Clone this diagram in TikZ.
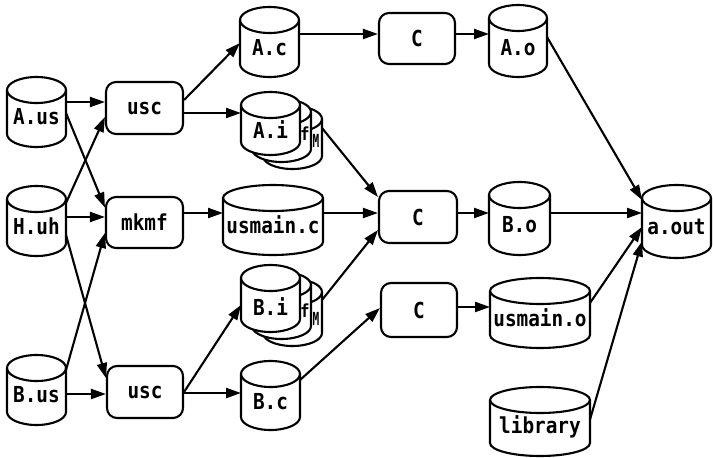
\documentclass[tikz,border=0pt]{standalone}
\usepackage{fontspec}
\newfontfamily\labelfont{DejaVu Sans Mono}[BoldFont={DejaVu Sans Mono Bold}, FakeStretch=0.88]
\usetikzlibrary{arrows.meta}

\tikzset{
  lw/.style={line width=2.1pt},
  proc/.style={draw, lw, rounded corners=10pt, inner sep=0pt,
    font=\labelfont\bfseries\fontsize{22}{22}\selectfont},
  lbl/.style={inner sep=0pt, font=\labelfont\bfseries\fontsize{22}{22}\selectfont},
  tag/.style={inner sep=0pt, font=\labelfont\bfseries\fontsize{18}{18}\selectfont},
  hold/.style={draw=none, inner sep=0pt, outer sep=0pt},
  arr/.style={lw, -{Triangle[length=15pt,width=10pt]}},
}

% cylinder outline: left, top, right, bottom (y grows downwards)
\newcommand\cylshape[4]{%
  \pgfmathsetmacro\cylrx{(#3-#1)/2}%
  \draw[lw, fill=white, line join=round]
    (#1,#2+13) -- (#1,#4-13) arc (180:0:\cylrx\space and 13)
    -- (#3,#2+13) arc (0:-180:\cylrx\space and 13) -- cycle;
  \draw[lw] (#1,#2+13) arc (180:0:\cylrx\space and 13);
}
% named holder node covering a box: name, left, top, right, bottom
\newcommand\holder[5]{%
  \node[hold, minimum width={#4-#2}, minimum height={#5-#3}]
    (#1) at ({(#2+#4)/2},{(#3+#5)/2}) {};
}
% cylinder with label: name, left, top, right, bottom, text, text drop
\newcommand\cylnode[7]{%
  \cylshape{#2}{#3}{#4}{#5}%
  \holder{#1}{#2}{#3}{#4}{#5}%
  \node[lbl] at ({(#2+#4)/2},{(#3+#5)/2+#7}) {#6};
}

\begin{document}
\begin{tikzpicture}[x=1pt, y=-1pt]
\useasboundingbox (0,0) rectangle (713,458);

% sources
\cylnode{Aus}{7}{77}{66}{147}{A.us}{5}
\cylnode{Huh}{7}{186}{66}{256}{H.uh}{5}
\cylnode{Bus}{7}{355}{66}{425}{B.us}{5}

% tools
\node[proc, minimum width=77, minimum height=52] (usc1) at (144.5,108) {usc};
\node[proc, minimum width=77, minimum height=51] (mkmf) at (144.5,222.5) {mkmf};
\node[proc, minimum width=76, minimum height=52] (usc2) at (145,392) {usc};

% generated files
\cylnode{Ac}{240}{7}{299}{77}{A.c}{6}

\cylshape{263}{106}{322}{169}
\holder{Ai3}{263}{106}{322}{169}
\node[tag, xscale=0.7] at (316,141) {M};
\cylshape{252}{99}{311}{162}
\node[tag] at (305,134) {f};
\cylnode{Ai}{241}{92}{300}{155}{A.i}{6.5}

\cylnode{usmainc}{223}{185}{323}{255}{usmain.c}{5}

\cylshape{263}{279}{322}{346}
\holder{Bi3}{263}{279}{322}{346}
\node[tag, xscale=0.7] at (316,319) {M};
\cylshape{252}{272}{311}{339}
\node[tag] at (305,311) {f};
\cylnode{Bi}{241}{265}{300}{332}{B.i}{8}

\cylnode{Bc}{241}{361}{300}{430}{B.c}{6}

% compilers
\node[proc, minimum width=76, minimum height=51] (C1) at (417,38.5) {C};
\node[proc, minimum width=78, minimum height=52] (C2) at (418,217) {C};
\node[proc, minimum width=76, minimum height=54] (C3) at (419,310) {C};

% objects
\cylnode{Ao}{489}{5}{547}{77}{A.o}{7}
\cylnode{Bo}{489}{182}{550}{255}{B.o}{6}
\cylnode{usmaino}{490}{278}{590}{348}{usmain.o}{5}
\cylnode{library}{490}{387}{590}{456}{library}{5}
\cylnode{aout}{642}{185}{711}{258}{a.out}{5}

% connections
\draw[arr] ([yshift=10pt]Aus.east) -- ([yshift=6pt]usc1.west);
\draw[arr] ([yshift=-1pt]Aus.east) -- ([yshift=15pt]mkmf.west);
\draw[arr] ([yshift=18pt]Huh.east) -- ([yshift=-9pt]usc1.west);
\draw[arr] ([yshift=4pt]Huh.east) -- ([yshift=5.5pt]mkmf.west);
\draw[arr] ([yshift=-14pt]Huh.east) -- ([yshift=14pt]usc2.west);
\draw[arr] ([yshift=20pt]Bus.east) -- ([yshift=-10.5pt]mkmf.west);
\draw[arr] ([yshift=-4pt]Bus.east) -- ([yshift=-2pt]usc2.west);

\draw[arr] ([yshift=8pt]usc1.east) -- ([yshift=-1pt]Ac.west);
\draw[arr] ([yshift=-5pt]usc1.east) -- ([yshift=10.5pt]Ai.west);
\draw[arr] ([yshift=9.5pt]mkmf.east) -- ([yshift=7pt]usmainc.west);
\draw[arr] (usc2.east) -- ([yshift=-6.5pt]Bi.west);
\draw[arr] ([yshift=-1pt]usc2.east) -- ([yshift=2.5pt]Bc.west);

\draw[arr] ([yshift=8pt]Ac.east) -- ([yshift=4.5pt]C1.west);
\draw[arr] ([yshift=9.5pt]Ai3.east) -- ([yshift=20pt]C2.west);
\draw[arr] ([yshift=7pt]usmainc.east) -- ([yshift=4pt]C2.west);
\draw[arr] ([yshift=12.5pt]Bi3.east) -- ([yshift=-13pt]C2.west);
\draw[arr] ([yshift=15.5pt]Bc.east) -- ([yshift=2pt]C3.west);

\draw[arr] ([yshift=4.5pt]C1.east) -- ([yshift=7pt]Ao.west);
\draw[arr] ([yshift=4pt]C2.east) -- ([yshift=5.5pt]Bo.west);
\draw[arr] ([yshift=3pt]C3.east) -- ([yshift=6pt]usmaino.west);

\draw[arr] ([yshift=4pt]Ao.east) -- ([yshift=21.5pt]aout.west);
\draw[arr] ([yshift=5.5pt]Bo.east) -- ([yshift=8.5pt]aout.west);
\draw[arr] ([yshift=10pt]usmaino.east) -- ([yshift=-5.5pt]aout.west);
\draw[arr] ([yshift=2pt]library.east) -- ([yshift=-20pt]aout.west);
\end{tikzpicture}
\end{document}
